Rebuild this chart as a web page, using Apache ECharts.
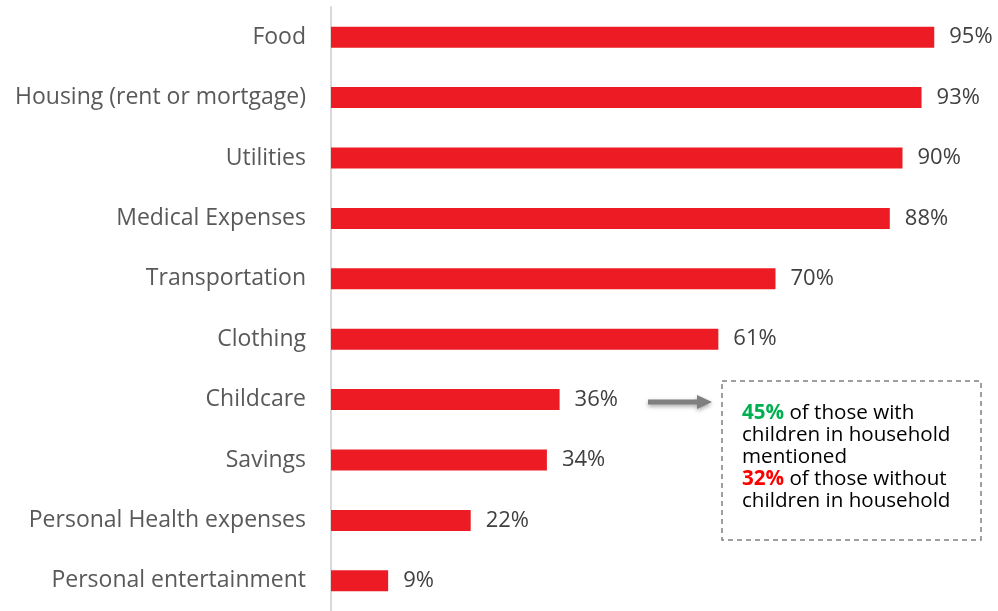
<!DOCTYPE html>
<html><head><meta charset="utf-8">
<script src="https://cdn.jsdelivr.net/npm/echarts@6/dist/echarts.min.js"></script>
<style>html,body{margin:0;padding:0;background:#fff}#c{width:998px;height:611px}</style>
</head><body><div id="c"></div>
<script>
var categories = ["Food","Housing (rent or mortgage)","Utilities","Medical Expenses","Transportation","Clothing","Childcare","Savings","Personal Health expenses","Personal entertainment"];
var values = [95,93,90,88,70,61,36,34,22,9];
var noteLines = ["{g|45%} of those with","children in household","mentioned","{r|32%} of those without","children in household"];

var chart = echarts.init(document.getElementById('c'), null, {renderer:'canvas'});
var font = '"Open Sans", "Liberation Sans", Arial, sans-serif';
chart.setOption({
  animation:false,
  grid:{left:331, right:32, top:7, height:608, containLabel:false},
  xAxis:{type:'value', min:0, max:100, show:false},
  yAxis:{type:'category', data:categories, inverse:true,
    axisLine:{show:true, lineStyle:{color:'#d9d9d9', width:2}},
    axisTick:{show:false},
    axisLabel:{color:'#595959', fontSize:23, fontFamily:font, margin:25}
  },
  series:[{type:'bar', data:values, barWidth:21,
    itemStyle:{color:'#ED1C24'},
    label:{show:true, position:'right', distance:15, formatter:'{c}%', color:'#404040', fontSize:22, fontFamily:font}
  }],
  graphic:[
    {type:'rect', shape:{x:722, y:381, width:259, height:159},
     style:{fill:'none', stroke:'#808080', lineWidth:1.5, lineDash:[5,4]}},
    {type:'polygon', shape:{points:[[648,399.5],[697,399.5],[697,395],[712,402],[697,409],[697,404.5],[648,404.5]]},
     style:{fill:'#7f7f7f', shadowBlur:4, shadowColor:'rgba(0,0,0,0.35)', shadowOffsetY:2}},
    {type:'text', left:742, top:402,
     style:{text:noteLines.join('\n'), fill:'#000', fontSize:20.6, fontFamily:font, lineHeight:22,
       rich:{g:{fill:'#00B050', fontWeight:'bold', fontSize:20.6, fontFamily:font, lineHeight:22},
             r:{fill:'#FF0000', fontWeight:'bold', fontSize:20.6, fontFamily:font, lineHeight:22}}}}
  ]
});
</script></body></html>
